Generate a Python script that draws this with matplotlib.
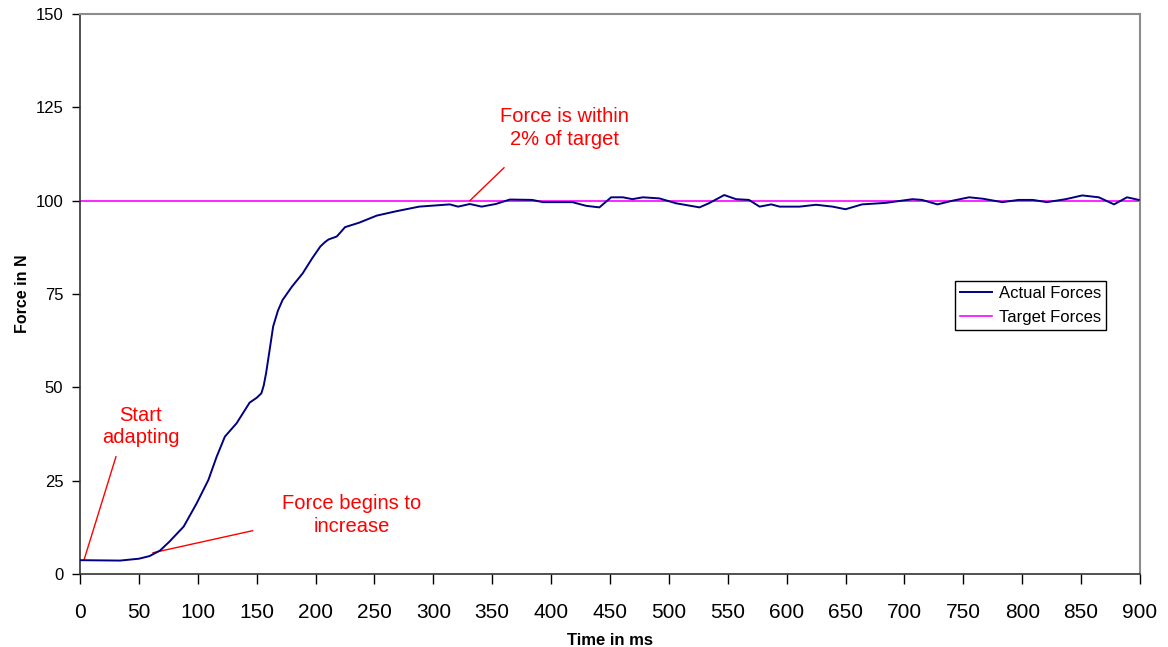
import matplotlib
matplotlib.use('Agg')
import matplotlib.pyplot as plt

plt.rcParams['font.family'] = ['Liberation Sans', 'DejaVu Sans']

# force readings (ms, N)
time_ms = [0, 3, 34, 50, 59, 68, 76, 88, 99, 109, 116, 123, 133, 144, 150, 154, 156,
           158, 161, 164, 168, 172, 180, 189, 197, 204, 208, 211, 218, 222, 225, 237,
           252, 269, 288, 314, 321, 331, 341,
           353, 365, 384, 393, 418, 430, 441, 451, 461, 469, 478, 492, 506, 526,
           534, 547, 557, 568, 577, 587, 594, 611, 625, 639, 650, 664, 684, 707,
           715, 728, 741, 755, 767, 783, 797, 809, 821, 837, 851, 865, 878, 889, 899]
actual = [3.7, 3.7, 3.6, 4.1, 4.8, 6.3, 8.7, 12.7, 18.9, 25.2, 31.4, 36.8, 40.4, 45.9,
          47.2, 48.4, 50.5, 53.8, 60.0, 66.3, 70.5, 73.4, 77.0, 80.5, 84.5, 87.7,
          88.9, 89.6, 90.4, 91.8, 92.9, 94.1, 96.0, 97.2,
          98.4, 99.0, 98.4, 99.1, 98.4, 99.1, 100.3, 100.2, 99.6, 99.6, 98.6, 98.2,
          100.9, 100.9, 100.4, 100.9, 100.6, 99.3, 98.2, 99.3, 101.5, 100.4, 100.2,
          98.4, 99.0, 98.4, 98.4, 98.9, 98.4, 97.7, 99.0, 99.4, 100.4, 100.2, 99.0,
          100.0, 100.9, 100.5, 99.6, 100.2, 100.2, 99.6, 100.4, 101.4, 100.9, 99.0,
          100.9, 100.2]
target_t = [0, 900]
target = [100, 100]

x_ticks = list(range(0, 901, 50))
y_ticks = [0, 25, 50, 75, 100, 125, 150]

fig = plt.figure(figsize=(11.68, 6.47), dpi=100)
ax = fig.add_axes([0.0685, 0.1128, 0.9075, 0.8656])

ax.plot(time_ms, actual, color='#000080', lw=1.4, label='Actual Forces', zorder=3)
ax.plot(target_t, target, color='#ff00ff', lw=1.2, label='Target Forces', zorder=2)

ax.set_xlim(0, 900)
ax.set_ylim(0, 150)
ax.set_xticks(x_ticks)
ax.set_yticks(y_ticks)
ax.tick_params(axis='x', direction='out', length=7, width=1, pad=14, labelsize=15)
ax.tick_params(axis='y', direction='out', length=6, width=1, pad=6, labelsize=12)

for s in ['left', 'bottom']:
    ax.spines[s].set_color('#333333')
    ax.spines[s].set_linewidth(1.2)
for s in ['top', 'right']:
    ax.spines[s].set_color('#8c8c8c')
    ax.spines[s].set_linewidth(1.5)

ax.set_xlabel('Time in ms', fontsize=12, fontweight='bold', labelpad=8)
ax.set_ylabel('Force in N', fontsize=11.5, fontweight='bold', labelpad=4)

# annotations
red = '#ff0000'
ax.text(411, 119.5, 'Force is within\n2% of target', color=red, fontsize=14.5,
        ha='center', va='center', linespacing=1.22)
ax.plot([331, 360], [100, 108.8], color=red, lw=1)
ax.text(51.5, 39.6, 'Start\nadapting', color=red, fontsize=14.5,
        ha='center', va='center', linespacing=1.22)
ax.plot([3.4, 30.5], [3.75, 31.4], color=red, lw=1)
ax.text(231, 15.8, 'Force begins to\nincrease', color=red, fontsize=14.5,
        ha='center', va='center', linespacing=1.22)
ax.plot([62, 146.5], [5.7, 11.6], color=red, lw=1)

leg = ax.legend(loc='upper right', bbox_to_anchor=(0.968, 0.523), borderaxespad=0,
                fontsize=12, fancybox=False, framealpha=1, edgecolor='black',
                handlelength=1.9, handletextpad=0.4, borderpad=0.3, labelspacing=0.55)
leg.get_frame().set_linewidth(1)

fig.savefig('out.png', dpi=100)
